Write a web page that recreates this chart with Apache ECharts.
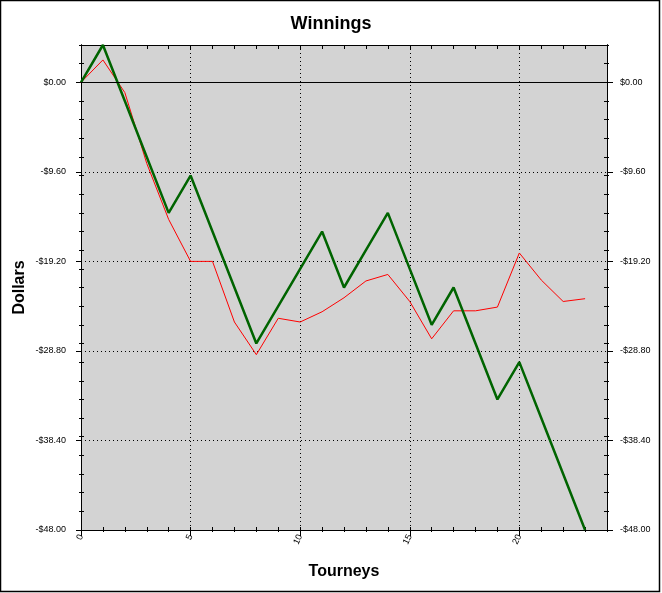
<!DOCTYPE html>
<html>
<head>
<meta charset="utf-8">
<script src="https://cdn.jsdelivr.net/npm/echarts@6/dist/echarts.min.js"></script>
<style>
html,body{margin:0;padding:0;background:#fff;}
#chart{width:662px;height:593px;}
</style>
</head>
<body>
<div id="chart"></div>
<script>
// ---- data ----
var tourneys = [0,1,2,3,4,5,6,7,8,9,10,11,12,13,14,15,16,17,18,19,20,21,22,23];
var greenSeries = [0,4,-2,-8,-14,-10,-16,-22,-28,-24,-20,-16,-22,-18,-14,-20,-26,-22,-28,-34,-30,-36,-42,-48];
var redSeries = [0,2.4,-1.1,-8.7,-14.7,-19.2,-19.2,-25.7,-29.2,-25.3,-25.7,-24.6,-23.1,-21.3,-20.6,-23.5,-27.5,-24.5,-24.5,-24.1,-18.3,-21.2,-23.5,-23.2];
var yTickValues = [0,-9.6,-19.2,-28.8,-38.4,-48];
var xTickValues = [0,5,10,15,20];
var titleText = 'Winnings';
var xName = 'Tourneys';
var yName = 'Dollars';

var FONT = '"Liberation Sans", Arial, sans-serif';
var X_MIN = 0, X_MAX = 24, Y_MIN = -48, Y_MAX = 4;

function fmtDollar(v){
  var r = Math.round(v*100)/100;
  if (Math.abs(r) < 1e-9) return '$0.00';
  return (r < 0 ? '-$' : '$') + Math.abs(r).toFixed(2);
}
function isYTick(v){
  return yTickValues.some(function(t){return Math.abs(t-v)<1e-6;});
}
function isXTick(v){
  return xTickValues.some(function(t){return Math.abs(t-v)<1e-6;});
}

function pairs(ys){ return tourneys.map(function(t,i){return [t, ys[i]];}); }

var black = '#000';
function minorX(pos, inside, len){
  return {type:'value', position:pos, min:X_MIN, max:X_MAX, interval:1,
    axisLine:{show:true, onZero:false, lineStyle:{color:black,width:1}},
    axisTick:{show:true, inside:inside, length:len, lineStyle:{color:black,width:1}},
    axisLabel:{show:false}, splitLine:{show:false}};
}
function minorY(pos, inside, len){
  return {type:'value', position:pos, min:Y_MIN, max:Y_MAX, interval:2,
    axisLine:{show:true, onZero:false, lineStyle:{color:black,width:1}},
    axisTick:{show:true, inside:inside, length:len, lineStyle:{color:black,width:1}},
    axisLabel:{show:false}, splitLine:{show:false}};
}

var chart = echarts.init(document.getElementById('chart'), null, {renderer:'canvas'});
chart.setOption({
  animation:false,
  backgroundColor:'#fff',
  title:{text:titleText, left:'center', top:10,
    textStyle:{fontFamily:FONT, fontSize:18, fontWeight:'bold', color:black}},
  grid:{left:81, right:55, top:45, bottom:63, show:true, backgroundColor:'#d3d3d3', borderWidth:0},
  graphic:[{type:'rect', shape:{x:0.5,y:0.5,width:659,height:591},
    style:{fill:null, stroke:black, lineWidth:1.5}, silent:true, z:100}],
  xAxis:[
    {type:'value', position:'bottom', min:X_MIN, max:X_MAX, interval:5,
      name:xName, nameLocation:'middle', nameGap:34, nameMoveOverlap:false,
      nameTextStyle:{fontFamily:FONT, fontSize:16, fontWeight:'bold', color:black},
      axisLine:{show:true, onZero:false, lineStyle:{color:black,width:1}},
      axisTick:{show:true, inside:false, length:6, lineStyle:{color:black,width:1}},
      axisLabel:{show:true, rotate:65, margin:5, fontFamily:FONT, fontSize:9, color:black,
        showMaxLabel:false,
        formatter:function(v){return isXTick(v)? String(v) : '';}},
      splitLine:{show:true, lineStyle:{color:black, width:1, type:[1,3]}}},
    minorX('bottom', true, 3),
    minorX('bottom', false, 2),
    minorX('top', true, 4)
  ],
  yAxis:[
    {type:'value', position:'left', min:Y_MIN, max:Y_MAX, interval:9.6,
      name:yName, nameLocation:'middle', nameGap:53, nameMoveOverlap:false,
      nameTextStyle:{fontFamily:FONT, fontSize:16, fontWeight:'bold', color:black},
      axisLine:{show:true, onZero:false, lineStyle:{color:black,width:1}},
      axisTick:{show:true, inside:false, length:5, lineStyle:{color:black,width:1}},
      axisLabel:{show:true, margin:15, fontFamily:FONT, fontSize:9, color:black,
        showMaxLabel:false,
        formatter:function(v){return isYTick(v)? fmtDollar(v) : '';}},
      splitLine:{show:true, lineStyle:{color:black, width:1, type:[1,3]}}},
    minorY('left', true, 3),
    minorY('left', false, 2),
    {type:'value', position:'right', min:Y_MIN, max:Y_MAX, interval:9.6,
      axisLine:{show:true, onZero:false, lineStyle:{color:black,width:1}},
      axisTick:{show:true, inside:false, length:6, lineStyle:{color:black,width:1}},
      axisLabel:{show:true, margin:13, fontFamily:FONT, fontSize:9, color:black,
        showMaxLabel:false,
        formatter:function(v){return isYTick(v)? fmtDollar(v) : '';}},
      splitLine:{show:false}},
    minorY('right', true, 3),
    minorY('right', false, 2)
  ],
  series:[
    {type:'line', name:'red', xAxisIndex:0, yAxisIndex:0, data:pairs(redSeries),
      symbol:'none', lineStyle:{color:'#ff0000', width:1}, itemStyle:{color:'#ff0000'}, z:3,
      markLine:{silent:true, symbol:'none', label:{show:false},
        lineStyle:{color:black, type:'solid', width:1},
        data:[{yAxis:0}]}},
    {type:'line', name:'green', xAxisIndex:0, yAxisIndex:0, data:pairs(greenSeries),
      symbol:'none', lineStyle:{color:'#006400', width:2.5}, itemStyle:{color:'#006400'}, z:4}
  ]
});
</script>
</body>
</html>
